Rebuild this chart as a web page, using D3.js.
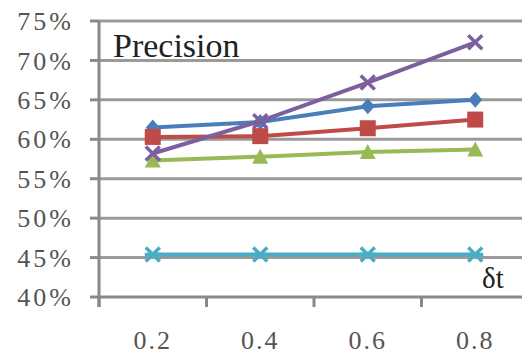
<!DOCTYPE html>
<html>
<head>
<meta charset="utf-8">
<script src="https://cdn.jsdelivr.net/npm/d3@7"></script>
</head>
<body style="margin:0">
<script>
// Chart size
const width = 522, height = 354;
const fontName = "'Times New Roman', 'Liberation Serif', Tinos, FreeSerif";

// Data
const categories = ["0.2", "0.4", "0.6", "0.8"];
const blueValues = [61.5, 62.2, 64.2, 65.0];
const redValues = [60.3, 60.4, 61.4, 62.5];
const greenValues = [57.3, 57.8, 58.4, 58.7];
const purpleValues = [58.2, 62.3, 67.2, 72.3];
const cyanValues = [45.4, 45.4, 45.4, 45.4];
const yTicks = [40, 45, 50, 55, 60, 65, 70, 75];

const series = [
    { name: "blue", values: blueValues, color: "#4a7ebb", marker: "diamond" },
    { name: "red", values: redValues, color: "#be4b48", marker: "square" },
    { name: "green", values: greenValues, color: "#98b954", marker: "triangle" },
    { name: "purple", values: purpleValues, color: "#7d5fa0", marker: "cross" },
    { name: "cyan", values: cyanValues, color: "#4bacc6", marker: "star" }
];

const svg = d3.select("body")
    .append("svg")
    .attr("width", width)
    .attr("height", height)
    .attr("font-family", "Times New Roman, Liberation Serif, serif");

// Scales
const x = d3.scaleBand()
    .domain(categories)
    .range([99, 529]);

const y = d3.scaleLinear()
    .domain([40, 75])
    .range([297, 21]);

// Horizontal gridlines
svg.append("g")
    .selectAll("line")
    .data(yTicks.filter(d => d > 40))
    .enter()
    .append("line")
    .attr("x1", 99)
    .attr("x2", width)
    .attr("y1", d => y(d))
    .attr("y2", d => y(d))
    .attr("stroke", "#9a9a9a")
    .attr("stroke-width", 3);

// Y axis labels and ticks
svg.append("g")
    .selectAll("text")
    .data(yTicks)
    .enter()
    .append("text")
    .attr("x", 74)
    .attr("y", d => y(d))
    .attr("dy", "0.35em")
    .attr("text-anchor", "end")
    .attr("font-size", 26)
    .attr("letter-spacing", "3px")
    .attr("fill", "#555")
    .style("font-family", fontName)
    .text(d => d + "%");

svg.append("g")
    .selectAll("line")
    .data(yTicks)
    .enter()
    .append("line")
    .attr("x1", 90)
    .attr("x2", 99)
    .attr("y1", d => y(d))
    .attr("y2", d => y(d))
    .attr("stroke", "#888")
    .attr("stroke-width", 3);

// Axis lines
svg.append("line")
    .attr("x1", 99).attr("x2", 99)
    .attr("y1", y(75)).attr("y2", y(40) + 10)
    .attr("stroke", "#888").attr("stroke-width", 3);
svg.append("line")
    .attr("x1", 99).attr("x2", width)
    .attr("y1", y(40)).attr("y2", y(40))
    .attr("stroke", "#888").attr("stroke-width", 3);

// X tick marks at band boundaries and labels at band centres
svg.append("g")
    .selectAll("line")
    .data(categories)
    .enter()
    .append("line")
    .attr("x1", d => x(d))
    .attr("x2", d => x(d))
    .attr("y1", y(40))
    .attr("y2", y(40) + 10)
    .attr("stroke", "#888")
    .attr("stroke-width", 3);

svg.append("g")
    .selectAll("text")
    .data(categories)
    .enter()
    .append("text")
    .attr("x", d => x(d) + x.bandwidth() / 2)
    .attr("y", 349)
    .attr("text-anchor", "middle")
    .attr("font-size", 26)
    .attr("letter-spacing", "2px")
    .attr("fill", "#555")
    .style("font-family", fontName)
    .text(d => d);

// Lines
const line = d3.line()
    .x((d, i) => x(categories[i]) + x.bandwidth() / 2)
    .y(d => y(d));

const markerPaths = {
    diamond: "M0,-8L7,0L0,8L-7,0Z",
    square: "M-8,-8H8V8H-8Z",
    triangle: "M0,-8L8,7H-8Z",
    cross: "M-7,-7L7,7M7,-7L-7,7",
    star: "M-7,-7L7,7M7,-7L-7,7M-8,0H8"
};

series.forEach(s => {
    const g = svg.append("g");
    g.append("path")
        .datum(s.values)
        .attr("d", line)
        .attr("fill", "none")
        .attr("stroke", s.color)
        .attr("stroke-width", 4);

    g.selectAll(".marker")
        .data(s.values)
        .enter()
        .append("path")
        .attr("class", "marker")
        .attr("transform", (d, i) => `translate(${x(categories[i]) + x.bandwidth() / 2},${y(d)})`)
        .attr("d", markerPaths[s.marker])
        .attr("fill", (s.marker === "cross" || s.marker === "star") ? "none" : s.color)
        .attr("stroke", s.color)
        .attr("stroke-width", (s.marker === "cross" || s.marker === "star") ? 3.5 : 0);
});

// Labels inside the plot
svg.append("text")
    .attr("x", 113)
    .attr("y", 57)
    .attr("font-size", 34)
    .attr("fill", "#222")
    .style("font-family", fontName)
    .text("Precision");

svg.append("text")
    .attr("x", 482)
    .attr("y", 288)
    .attr("font-size", 29)
    .attr("fill", "#222")
    .style("font-family", fontName)
    .text("δt");
</script>
</body>
</html>
